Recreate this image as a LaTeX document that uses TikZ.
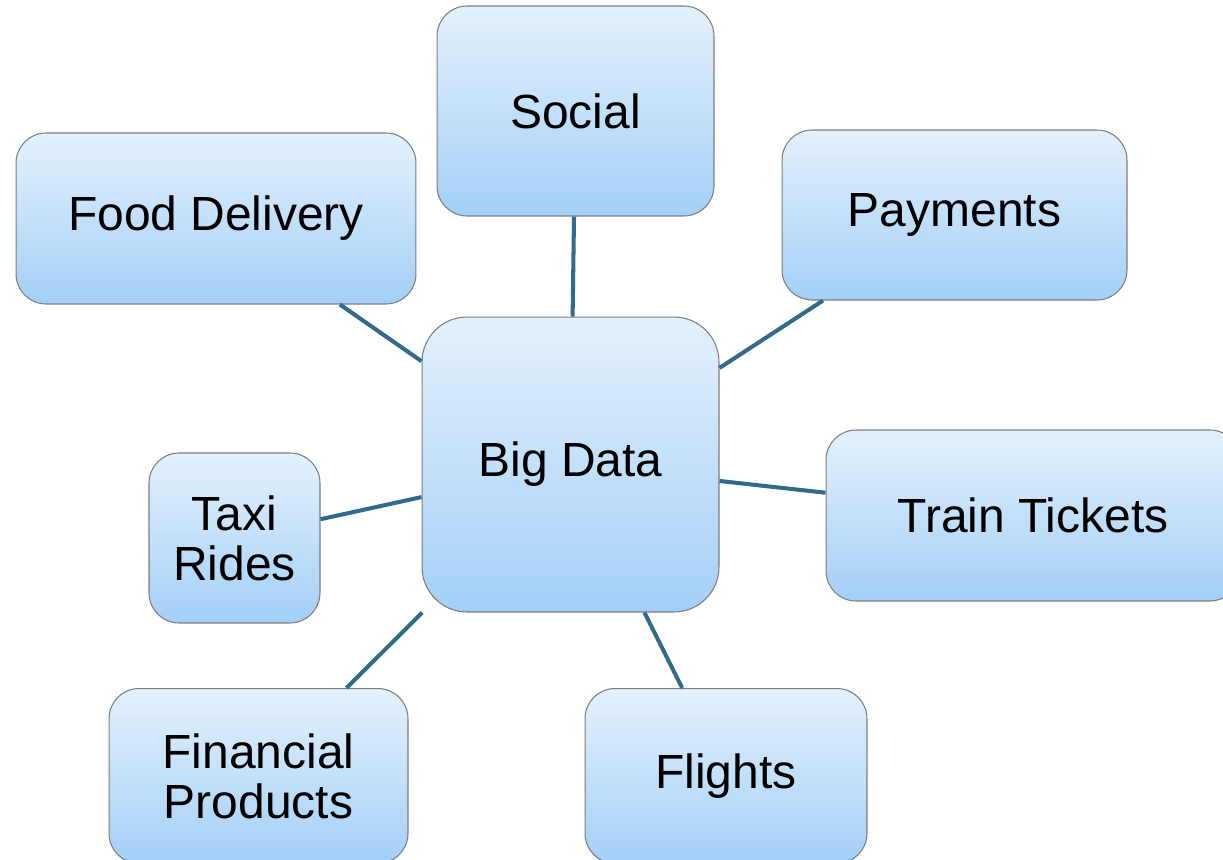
\documentclass[tikz,border=0pt]{standalone}
\usepackage{fontspec}
\setmainfont{Liberation Sans}
\usepackage{tikz}
\definecolor{linkblue}{RGB}{50,106,140}
\definecolor{boxtop}{RGB}{228,241,252}
\definecolor{boxbottom}{RGB}{163,207,247}
\definecolor{boxline}{RGB}{125,125,125}

\begin{document}
\begin{tikzpicture}[x=0.02cm, y=-0.02cm,
  box/.style={draw=boxline, line width=0.6pt, rounded corners=0.6cm,
    top color=boxtop, bottom color=boxbottom, align=center,
    font=\fontsize{27.3}{28.5}\selectfont, inner sep=0pt},
  link/.style={draw=linkblue, line width=2.3pt}]
\clip (0,0) rectangle (1223,859);
\node[box, rounded corners=0.9cm, minimum width=5.94cm, minimum height=5.9cm] (big) at (570.5,464.5) {Big Data};
\node[box, minimum width=5.54cm, minimum height=4.2cm] (social) at (575.5,111) {Social};
\node[box, minimum width=8cm, minimum height=3.42cm] (food) at (216,218.5) {Food Delivery};
\node[box, minimum width=6.9cm, minimum height=3.4cm] (pay) at (954.5,215) {Payments};
\node[box, minimum width=8.28cm, minimum height=3.42cm] (train) at (1033,515.5) {Train Tickets};
\node[box, minimum width=3.42cm, minimum height=3.4cm] (taxi) at (234.5,538) {Taxi\\Rides};
\node[box, minimum width=5.98cm, minimum height=3.5cm] (fin) at (258.5,776) {Financial\\Products};
\node[box, minimum width=5.64cm, minimum height=3.5cm] (flights) at (726,776) {Flights};
\foreach \n in {social, food, pay, train, taxi, fin, flights}{\draw[link] (big) -- (\n);}
\end{tikzpicture}
\end{document}
